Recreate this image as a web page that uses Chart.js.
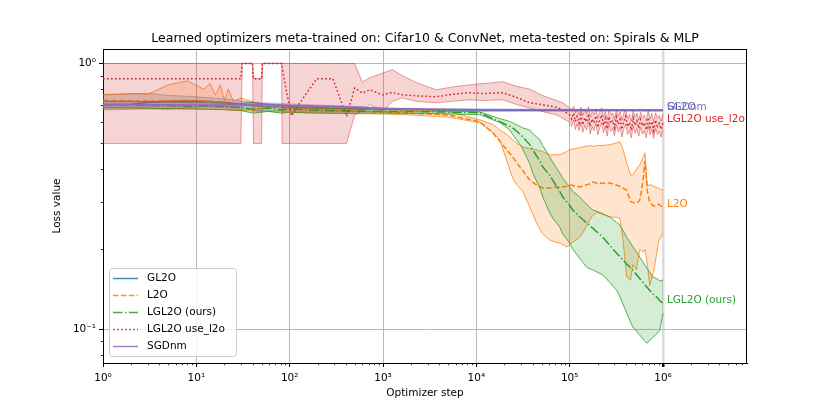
<!DOCTYPE html>
<html><head><meta charset="utf-8">
<script src="https://cdn.jsdelivr.net/npm/chart.js@4.4.1/dist/chart.umd.min.js"></script>
<style>html,body{margin:0;padding:0;background:#fff}#wrap{width:830px;height:415px;position:relative}</style>
</head><body><div id="wrap"><canvas id="c" width="830" height="415"></canvas></div>
<script>
// ---------- DATA ----------
const xTickValues = [1, 10, 100, 1000, 10000, 100000, 1000000];
const yTickValues = [0.1, 1];

const gl2oSteps = [1,2,3,5,8,12,20,30,50,80,100,150,300,600,1000,3000,10000,100000,1000000];
const gl2oMean  = [0.699,0.702,0.712,0.720,0.722,0.720,0.714,0.700,0.690,0.684,0.682,0.679,0.676,0.674,0.672,0.670,0.668,0.667,0.666];
const gl2oLow   = [0.668,0.672,0.674,0.672,0.682,0.688,0.682,0.672,0.666,0.662,0.660,0.660,0.658,0.658,0.658,0.659,0.660,0.661,0.660];
const gl2oHigh  = [0.765,0.768,0.772,0.758,0.752,0.745,0.735,0.722,0.708,0.700,0.695,0.690,0.685,0.680,0.677,0.674,0.672,0.670,0.669];

const sgdSteps = [1,2,3,5,8,12,20,30,50,80,100,150,300,600,1000,3000,10000,100000,1000000];
const sgdMean  = [0.700,0.700,0.699,0.699,0.698,0.697,0.697,0.700,0.700,0.698,0.696,0.693,0.688,0.682,0.677,0.672,0.670,0.669,0.668];
const sgdLow   = [0.685,0.686,0.686,0.686,0.686,0.686,0.686,0.690,0.690,0.689,0.688,0.686,0.682,0.677,0.673,0.669,0.667,0.666,0.665];
const sgdHigh  = [0.720,0.720,0.718,0.716,0.714,0.712,0.710,0.710,0.710,0.707,0.704,0.700,0.694,0.687,0.681,0.675,0.673,0.672,0.671];

const l2oSteps = [1,2,3,5,8,12,14,16,18,20,22,25,30,50,100,200,500,1000,2000,5000,
  10900,15000,17800,21200,24500,27100,31400,37300,44400,51500,
  61100,72600,78200,93000,100000,128000,138000,164000,177000,195000,
  269000,344000,370000,408000,450000,474000,520000,563000,610000,640000,
  680000,720000,800000,900000,1000000];
const l2oMean = [0.725,0.722,0.722,0.724,0.726,0.724,0.720,0.718,0.716,0.715,0.710,0.705,0.700,0.690,0.680,0.672,0.662,0.655,0.650,0.640,
  0.603,0.548,0.510,0.473,0.445,0.422,0.395,0.364,0.348,0.340,
  0.340,0.343,0.342,0.345,0.349,0.343,0.346,0.352,0.358,0.354,
  0.355,0.345,0.340,0.333,0.302,0.300,0.298,0.305,0.360,0.430,
  0.330,0.300,0.290,0.295,0.287];
const l2oLow = [0.680,0.680,0.678,0.675,0.675,0.672,0.672,0.671,0.670,0.670,0.668,0.666,0.665,0.660,0.655,0.650,0.647,0.645,0.640,0.628,
  0.598,0.550,0.516,0.430,0.370,0.350,0.330,0.288,0.250,0.228,
  0.2165,0.212,0.211,0.204,0.208,0.222,0.230,0.258,0.268,0.275,
  0.265,0.262,0.222,0.157,0.153,0.175,0.167,0.200,0.195,0.200,
  0.175,0.146,0.167,0.215,0.230];
const l2oHigh = [0.760,0.770,0.765,0.830,0.860,0.800,0.840,0.760,0.830,0.730,0.800,0.720,0.740,0.700,0.688,0.680,0.675,0.670,0.667,0.660,
  0.613,0.590,0.562,0.540,0.516,0.500,0.485,0.478,0.473,0.465,
  0.453,0.453,0.453,0.466,0.473,0.482,0.485,0.490,0.488,0.490,
  0.494,0.507,0.480,0.422,0.380,0.381,0.400,0.415,0.440,0.461,
  0.345,0.350,0.345,0.338,0.334];

const lglSteps = [1,2,3,5,8,12,20,30,40,60,80,100,150,300,1000,3000,
  10900,17800,22800,24500,30600,31400,37300,40200,47800,51500,
  61100,65800,78200,84300,100000,108000,128000,152000,177000,226000,
  269000,319000,344000,408000,474000,563000,670000,776000,857000,923000,1000000];
const lglMean = [0.700,0.698,0.695,0.693,0.690,0.692,0.688,0.683,0.672,0.680,0.668,0.675,0.668,0.664,0.660,0.658,
  0.652,0.603,0.580,0.572,0.535,0.529,0.495,0.473,0.430,0.408,
  0.380,0.364,0.330,0.3145,0.292,0.281,0.265,0.251,0.240,0.222,
  0.207,0.193,0.188,0.176,0.167,0.155,0.144,0.136,0.132,0.128,0.125];
const lglHigh = [0.720,0.720,0.718,0.715,0.712,0.712,0.708,0.705,0.715,0.700,0.695,0.690,0.685,0.678,0.672,0.670,
  0.657,0.620,0.605,0.598,0.575,0.572,0.562,0.545,0.516,0.490,
  0.445,0.425,0.387,0.370,0.343,0.330,0.3145,0.295,0.281,0.272,
  0.264,0.252,0.247,0.222,0.205,0.187,0.170,0.157,0.155,0.152,0.153];
const lglLow = [0.680,0.680,0.678,0.676,0.674,0.674,0.670,0.665,0.650,0.660,0.650,0.655,0.652,0.650,0.650,0.648,
  0.641,0.600,0.562,0.540,0.485,0.475,0.420,0.387,0.340,0.3145,
  0.274,0.262,0.2424,0.228,0.211,0.200,0.185,0.171,0.167,0.160,
  0.150,0.140,0.133,0.115,0.102,0.095,0.0885,0.093,0.096,0.099,0.115];

const redHeadSteps = [1,30,31,40,41,50,51,82,83,93,105,128,195,290,407,497,600,720,990,1260,1600,2300,3720,5500,8500,12000,19200,27000,37300,50000,72600,85000];
const redHeadMean = [0.876,0.876,1.0,1.0,0.876,0.876,1.0,1.0,0.97,0.773,0.635,0.71,0.876,0.876,0.632,0.808,0.773,0.796,0.762,0.778,0.762,0.755,0.749,0.765,0.776,0.770,0.776,0.745,0.711,0.70,0.684,0.665];
const redHeadHigh = [1.0,1.0,1.0,1.0,0.876,0.876,1.0,1.0,1.0,1.0,1.0,1.0,1.0,1.0,1.0,1.0,0.85,0.883,0.92,0.946,0.90,0.846,0.796,0.815,0.831,0.84,0.853,0.82,0.80,0.76,0.725,0.71];
const redHeadLow  = [0.5,0.5,1.0,1.0,0.5,0.5,1.0,1.0,0.5,0.5,0.5,0.5,0.5,0.5,0.5,0.64,0.66,0.70,0.66,0.72,0.742,0.72,0.711,0.72,0.73,0.725,0.73,0.70,0.68,0.66,0.64,0.62];

const redTailSteps = [100000,105000,110000,115000,120000,126000,132000,138000,145000,152000,159000,166000,174000,182000,191000,200000,210000,220000,230000,241000,252000,264000,276000,289000,302000,316000,331000,347000,363000,380000,398000,417000,437000,457000,479000,501000,525000,550000,575000,603000,631000,661000,692000,724000,759000,794000,832000,871000,912000,955000,1000000];
const redTailMean = [0.640,0.618,0.650,0.605,0.632,0.596,0.641,0.588,0.625,0.602,0.645,0.580,0.618,0.597,0.635,0.575,0.612,0.640,0.585,0.620,0.568,0.630,0.595,0.610,0.572,0.628,0.590,0.615,0.565,0.605,0.632,0.578,0.600,0.560,0.622,0.585,0.608,0.570,0.615,0.582,0.598,0.562,0.625,0.575,0.605,0.558,0.612,0.580,0.595,0.565,0.600];
const redTailHigh = [0.680,0.665,0.690,0.650,0.672,0.640,0.685,0.635,0.668,0.645,0.688,0.625,0.660,0.640,0.675,0.620,0.655,0.682,0.628,0.660,0.612,0.670,0.640,0.652,0.615,0.668,0.632,0.658,0.610,0.648,0.672,0.620,0.642,0.605,0.662,0.628,0.650,0.612,0.655,0.625,0.640,0.605,0.665,0.618,0.648,0.600,0.652,0.622,0.638,0.608,0.645];
const redTailLow  = [0.600,0.580,0.612,0.565,0.592,0.558,0.600,0.550,0.585,0.562,0.605,0.542,0.578,0.558,0.595,0.538,0.572,0.600,0.548,0.580,0.532,0.590,0.555,0.570,0.535,0.588,0.552,0.575,0.528,0.565,0.592,0.540,0.560,0.525,0.582,0.545,0.568,0.532,0.575,0.542,0.558,0.525,0.585,0.538,0.565,0.522,0.572,0.540,0.555,0.528,0.560];

const redSteps = redHeadSteps.concat(redTailSteps);
const redMean = redHeadMean.concat(redTailMean);
const redHigh = redHeadHigh.concat(redTailHigh);
const redLow = redHeadLow.concat(redTailLow);

// ---------- STYLE ----------
const FONT = 'DejaVu Sans';
const series = [
  {name:'GL2O', rgb:'31,119,180', steps:gl2oSteps, mean:gl2oMean, low:gl2oLow, high:gl2oHigh, dash:[], edge:0.45},
  {name:'L2O', rgb:'255,127,14', steps:l2oSteps, mean:l2oMean, low:l2oLow, high:l2oHigh, dash:[5.5,2.4], edge:0.75},
  {name:'LGL2O (ours)', rgb:'44,160,44', steps:lglSteps, mean:lglMean, low:lglLow, high:lglHigh, dash:[9.6,2.4,1.5,2.4], edge:0.8},
  {name:'LGL2O use_l2o', rgb:'214,39,40', steps:redSteps, mean:redMean, low:redLow, high:redHigh, dash:[1.7,2.3], edge:0.45},
  {name:'SGDnm', rgb:'148,103,189', steps:sgdSteps, mean:sgdMean, low:sgdLow, high:sgdHigh, dash:[], edge:0.45}
];
function pts(xs, ys){ return xs.map((x,i)=>({x:x, y:ys[i]})); }

const datasets = [];
series.forEach(s => {
  const lowIdx = datasets.length;
  datasets.push({data:pts(s.steps, s.low), borderColor:'rgba('+s.rgb+','+s.edge+')', borderWidth:1, pointRadius:0, fill:false, tension:0});
  datasets.push({data:pts(s.steps, s.high), borderColor:'rgba('+s.rgb+','+s.edge+')', borderWidth:1, pointRadius:0,
    fill:{target:lowIdx}, backgroundColor:'rgba('+s.rgb+',0.2)', tension:0});
  datasets.push({data:pts(s.steps, s.mean), borderColor:'rgb('+s.rgb+')', borderWidth:1.5, borderDash:s.dash, pointRadius:0, fill:false, tension:0});
});
datasets.forEach((d,i)=>{ d.order = 1000 - i; });

const sup = {'0':'⁰','1':'¹','2':'²','3':'³','4':'⁴','5':'⁵','6':'⁶','7':'⁷','-':'⁻'};
function powLabel(v){ const e = Math.round(Math.log10(v)); return '10' + String(e).split('').map(c=>sup[c]).join(''); }

const decor = {
  id:'decor',
  afterDraw(chart){
    const ctx = chart.ctx, a = chart.chartArea, xs = chart.scales.x, ys = chart.scales.y;
    ctx.save();
    ctx.strokeStyle = '#000'; ctx.lineWidth = 1;
    ctx.beginPath();
    ctx.moveTo(a.left, a.top + 0.5); ctx.lineTo(a.right, a.top + 0.5);
    ctx.moveTo(a.right - 0.5, a.top); ctx.lineTo(a.right - 0.5, a.bottom);
    ctx.stroke();
    ctx.lineWidth = 0.8;
    ctx.beginPath();
    for (let d = 0; d <= 6; d++) for (let m = 2; m <= 9; m++) {
      const v = m * Math.pow(10, d);
      if (v > xs.max) continue;
      const p = Math.round(xs.getPixelForValue(v)) + 0.5;
      ctx.moveTo(p, a.bottom); ctx.lineTo(p, a.bottom + 2.2);
    }
    [0.08,0.09,0.2,0.3,0.4,0.5,0.6,0.7,0.8,0.9].forEach(v => {
      const p = Math.round(ys.getPixelForValue(v)) + 0.5;
      ctx.moveTo(a.left, p); ctx.lineTo(a.left - 2.2, p);
    });
    ctx.stroke();
    ctx.fillStyle = '#000';
    ctx.textAlign = 'center'; ctx.textBaseline = 'middle';
    ctx.font = '12.5px "' + FONT + '"';
    ctx.fillText('Learned optimizers meta-trained on: Cifar10 & ConvNet, meta-tested on: Spirals & MLP', (a.left + a.right) / 2, 38.5);
    ctx.font = '10.5px "' + FONT + '"';
    ctx.fillText('Optimizer step', (a.left + a.right) / 2, 393);
    ctx.save();
    ctx.translate(57.5, (a.top + a.bottom) / 2);
    ctx.rotate(-Math.PI / 2);
    ctx.fillText('Loss value', 0, 0);
    ctx.restore();
    ctx.textAlign = 'left'; ctx.textBaseline = 'alphabetic';
    ctx.font = '10.5px "' + FONT + '"';
    const lx = xs.getPixelForValue(1.1e6);
    series.forEach(s => {
      ctx.fillStyle = 'rgb(' + s.rgb + ')';
      ctx.fillText(s.name, lx, ys.getPixelForValue(s.mean[s.mean.length - 1]));
    });
    const bx = 109.5, by = 268.5, bw = 127, bh = 88, r = 3;
    ctx.beginPath();
    ctx.moveTo(bx + r, by); ctx.lineTo(bx + bw - r, by); ctx.arcTo(bx + bw, by, bx + bw, by + r, r);
    ctx.lineTo(bx + bw, by + bh - r); ctx.arcTo(bx + bw, by + bh, bx + bw - r, by + bh, r);
    ctx.lineTo(bx + r, by + bh); ctx.arcTo(bx, by + bh, bx, by + bh - r, r);
    ctx.lineTo(bx, by + r); ctx.arcTo(bx, by, bx + r, by, r);
    ctx.closePath();
    ctx.fillStyle = 'rgba(255,255,255,0.8)'; ctx.fill();
    ctx.strokeStyle = '#cccccc'; ctx.lineWidth = 1; ctx.stroke();
    ctx.textBaseline = 'middle';
    series.forEach((s, i) => {
      const yy = 278.5 + 17 * i;
      ctx.strokeStyle = 'rgba(' + s.rgb + ',0.85)'; ctx.lineWidth = 1.5; ctx.setLineDash(s.dash);
      ctx.beginPath(); ctx.moveTo(113, yy); ctx.lineTo(138, yy); ctx.stroke();
      ctx.setLineDash([]);
      ctx.fillStyle = '#000';
      ctx.fillText(s.name, 147, yy);
    });
    ctx.restore();
  }
};

new Chart(document.getElementById('c'), {
  type:'line',
  data:{datasets:datasets},
  options:{
    responsive:false, animation:false, devicePixelRatio:1,
    layout:{padding:{top:49, right:83, left:0, bottom:0}},
    plugins:{legend:{display:false}, tooltip:{enabled:false}, title:{display:false}},
    scales:{
      x:{type:'logarithmic', min:1, max:7.94e6,
        afterBuildTicks: s => { s.ticks = xTickValues.map(v => ({value:v, major:true})); },
        afterFit: s => { s.height = 52; },
        ticks:{callback:(v) => powLabel(v), color:'#000', font:{family:FONT, size:10.5}, maxRotation:0, autoSkip:false, padding:5},
        grid:{color: c => (c.tick && c.tick.value === 1e6) ? '#dcdcdc' : '#b8b8b8',
              lineWidth: c => (c.tick && c.tick.value === 1e6) ? 2.5 : 1,
              tickColor:'#000', tickLength:4, drawTicks:true},
        border:{color:'#000', width:1}},
      y:{type:'logarithmic', min:0.0746, max:1.133,
        afterBuildTicks: s => { s.ticks = yTickValues.map(v => ({value:v, major:true})); },
        afterFit: s => { s.width = 103; },
        ticks:{callback:(v) => powLabel(v), color:'#000', font:{family:FONT, size:10.5}, padding:3},
        grid:{color:'#b8b8b8', lineWidth:1, tickColor:'#000', tickLength:4, drawTicks:true},
        border:{color:'#000', width:1}}
    }
  },
  plugins:[decor]
});
</script>
</body></html>
